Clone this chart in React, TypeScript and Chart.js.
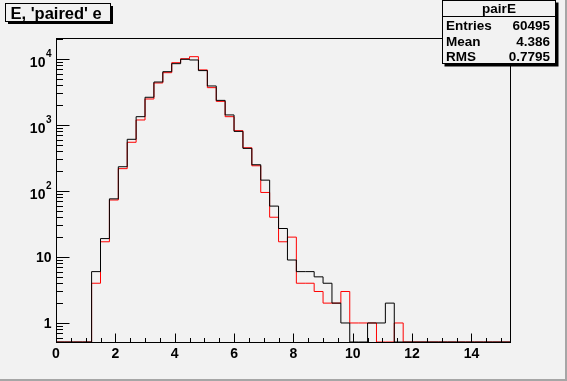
import React, { useEffect, useRef } from "react";
import { Chart, registerables } from "chart.js";

Chart.register(...registerables);

// ---- data ----
const binEdges = [
  0, 0.3, 0.6, 0.9, 1.2, 1.5, 1.8, 2.1, 2.4, 2.7, 3.0, 3.3, 3.6, 3.9, 4.2, 4.5, 4.8, 5.1, 5.4, 5.7,
  6.0, 6.3, 6.6, 6.9, 7.2, 7.5, 7.8, 8.1, 8.4, 8.7, 9.0, 9.3, 9.6, 9.9, 10.2, 10.5, 10.8, 11.1, 11.4,
  11.7, 12.0, 12.3, 12.6, 12.9, 13.2, 13.5, 13.8, 14.1, 14.4, 14.7, 15.0, 15.3,
];
const blackCounts = [
  0, 0, 0, 0, 6, 19, 76, 233, 607, 1336, 2630, 4480, 6420, 8490, 9890, 9660, 6670, 3900, 2360, 1420,
  800, 442, 250, 146, 59, 27, 9, 6, 6, 5, 4, 2, 1, 0, 0, 1, 1, 2, 0, 0, 0, 0, 0, 0, 0, 0, 0, 0, 0, 0, 0,
];
const redCounts = [
  0, 0, 0, 0, 4, 17, 73, 218, 547, 1191, 2477, 4330, 6200, 8790, 10100, 10840, 6830, 3680, 2280, 1336,
  820, 452, 241, 95, 40, 17, 20, 4, 4, 3, 2, 2, 3, 1, 1, 1, 0, 0, 1, 0, 0, 0, 0, 0, 0, 0, 0, 0, 0, 0, 0,
];
const xLabelValues = [0, 2, 4, 6, 8, 10, 12, 14];
const xTickLabels = ["0", "2", "4", "6", "8", "10", "12", "14"];
const yLabelValues = [1, 10, 100, 1000, 10000];
const yLabelBases = ["1", "10", "10", "10", "10"];
const yLabelExps = ["", "", "2", "3", "4"];
const chartTitle = "E, 'paired' e";
const statsTitle = "pairE";
const statsNames = ["Entries", "Mean", "RMS"];
const statsValues = ["60495", "4.386", "0.7795"];

const X_MIN = 0;
const X_MAX = 15.3;
const Y_MIN = 0.515;
const Y_MAX = 20800;

const BG = "#f2f2f2";
const FONT = '"Liberation Sans", Arial, Helvetica, sans-serif';

function toSteps(values: number[]) {
  const pts = values.map((v, i) => ({ x: binEdges[i], y: v > 0 ? v : Y_MIN }));
  const last = values[values.length - 1];
  pts.push({ x: binEdges[binEdges.length - 1], y: last > 0 ? last : Y_MIN });
  return pts;
}

const decorPlugin = {
  id: "rootDecor",
  beforeDraw(chart: any) {
    const ctx = chart.ctx;
    ctx.save();
    ctx.fillStyle = BG;
    ctx.fillRect(0, 0, chart.width, chart.height);
    ctx.fillStyle = "#a6a6a6";
    ctx.fillRect(0, chart.height - 2, chart.width, 2);
    ctx.fillRect(chart.width - 2, 0, 2, chart.height);
    ctx.restore();
  },
  afterDatasetsDraw(chart: any) {
    const ctx = chart.ctx;
    const a = chart.chartArea;
    const xs = chart.scales.x;
    const ys = chart.scales.y;
    const L = Math.round(a.left) + 0.5;
    const R = Math.round(a.right) + 0.5;
    const T = Math.round(a.top) + 0.5;
    const B = Math.round(a.bottom) + 0.5;
    ctx.save();
    ctx.strokeStyle = "#000";
    ctx.lineWidth = 1;
    // frame
    ctx.strokeRect(L, T, R - L, B - T);

    // x ticks
    ctx.beginPath();
    for (let k = 0; k <= 30; k++) {
      const v = k * 0.5;
      if (v > X_MAX) break;
      const px = Math.round(xs.getPixelForValue(v)) + 0.5;
      const len = k % 4 === 0 ? 9 : 4.5;
      ctx.moveTo(px, B);
      ctx.lineTo(px, B - len);
    }
    // y ticks
    for (let d = -1; d <= 4; d++) {
      for (let m = 1; m <= 9; m++) {
        const v = m * Math.pow(10, d);
        if (v < Y_MIN || v > Y_MAX) continue;
        const py = Math.round(ys.getPixelForValue(v)) + 0.5;
        const len = m === 1 ? 13 : 6.5;
        ctx.moveTo(L, py);
        ctx.lineTo(L + len, py);
      }
    }
    ctx.stroke();

    // x labels
    ctx.fillStyle = "#000";
    ctx.font = `bold 14px ${FONT}`;
    ctx.textAlign = "center";
    ctx.textBaseline = "alphabetic";
    xLabelValues.forEach((v, i) => {
      const px = xs.getPixelForValue(v);
      ctx.fillText(xTickLabels[i], px, B + 15.5);
    });

    // y labels
    yLabelValues.forEach((v, i) => {
      const py = ys.getPixelForValue(v);
      const exp = yLabelExps[i];
      const right = L - 5;
      if (exp) {
        ctx.font = `bold 10px ${FONT}`;
        ctx.textAlign = "right";
        const ew = ctx.measureText(exp).width;
        ctx.fillText(exp, right, py - 1.5);
        ctx.font = `bold 14px ${FONT}`;
        ctx.fillText(yLabelBases[i], right - ew - 0.5, py + 8);
      } else {
        ctx.font = `bold 14px ${FONT}`;
        ctx.textAlign = "right";
        ctx.fillText(yLabelBases[i], right, py + 5);
      }
    });

    // title box
    ctx.fillStyle = "#000";
    ctx.fillRect(8, 6, 105, 18);
    ctx.fillStyle = BG;
    ctx.fillRect(6, 4, 105, 18);
    ctx.strokeRect(5.5, 3.5, 105, 18);
    ctx.fillStyle = "#000";
    ctx.font = `bold 16.5px ${FONT}`;
    ctx.textAlign = "left";
    ctx.fillText(chartTitle, 10.5, 19);

    // stats box
    const bx = 442.5, by = 0.5, bw = 113, bh = 63;
    ctx.fillStyle = "#000";
    ctx.fillRect(bx + 2, by + 2, bw + 1, bh + 1);
    ctx.fillStyle = BG;
    ctx.fillRect(bx, by, bw, bh);
    ctx.strokeRect(bx, by, bw, bh);
    ctx.beginPath();
    ctx.moveTo(bx, 16.5);
    ctx.lineTo(bx + bw, 16.5);
    ctx.stroke();
    ctx.fillStyle = "#000";
    ctx.font = `bold 13.5px ${FONT}`;
    ctx.textAlign = "center";
    ctx.textBaseline = "middle";
    ctx.fillText(statsTitle, bx + bw / 2, 9.5);
    const rowY = [26, 42, 57.5];
    statsNames.forEach((n, i) => {
      ctx.textAlign = "left";
      ctx.fillText(n, 446, rowY[i]);
      ctx.textAlign = "right";
      ctx.fillText(statsValues[i], 550, rowY[i]);
    });
    ctx.restore();
  },
};

export default function App() {
  const ref = useRef<HTMLCanvasElement | null>(null);
  useEffect(() => {
    document.body.style.margin = "0";
    const canvas = ref.current;
    if (!canvas) return;
    const chart = new Chart(canvas, {
      type: "line",
      data: {
        datasets: [
          {
            label: "black",
            data: toSteps(blackCounts),
            borderColor: "#000000",
            borderWidth: 1,
            pointRadius: 0,
            stepped: "before",
            fill: false,
          },
          {
            label: "red",
            data: toSteps(redCounts),
            borderColor: "#ff0000",
            borderWidth: 1,
            pointRadius: 0,
            stepped: "before",
            fill: false,
          },
        ],
      },
      options: {
        animation: false,
        responsive: false,
        maintainAspectRatio: false,
        devicePixelRatio: 1,
        layout: { padding: { left: 56, right: 57, top: 38, bottom: 39 } },
        plugins: { legend: { display: false }, tooltip: { enabled: false }, title: { display: false } },
        scales: {
          x: { type: "linear", min: X_MIN, max: X_MAX, display: false },
          y: { type: "logarithmic", min: Y_MIN, max: Y_MAX, display: false },
        },
      },
      plugins: [decorPlugin],
    });
    return () => chart.destroy();
  }, []);
  return (
    <div style={{ width: 567, height: 381 }}>
      <canvas ref={ref} width={567} height={381} style={{ display: "block" }} />
    </div>
  );
}
